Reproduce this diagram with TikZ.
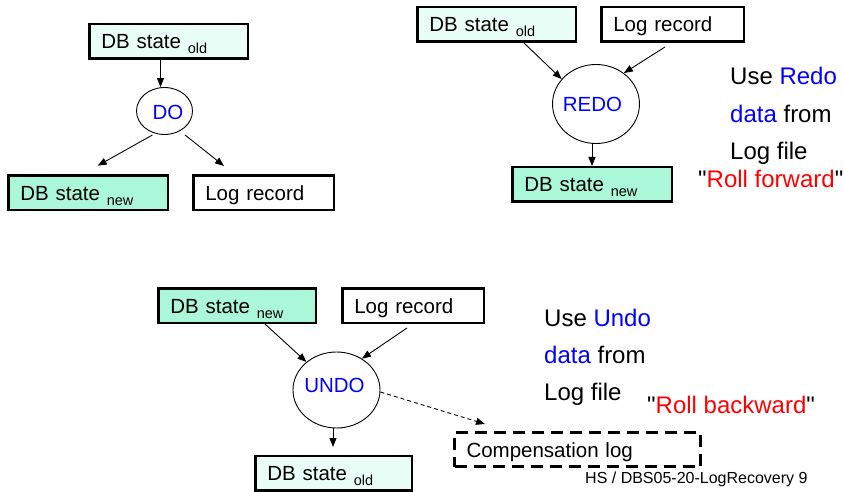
\documentclass[tikz,border=0pt]{standalone}
\usepackage{fontspec}
\setmainfont[Ligatures=TeXOff]{Liberation Sans}
\usetikzlibrary{arrows.meta,shapes.geometric,calc}

\definecolor{oldfill}{RGB}{234,254,248}
\definecolor{newfill}{RGB}{170,247,218}
\definecolor{kwblue}{RGB}{0,0,255}
\definecolor{kwred}{RGB}{255,0,0}

% lowered index text after "DB state"
\newcommand{\stateidx}[1]{\raisebox{-5pt}[0pt][0pt]{\fontsize{14.5}{14.5}\selectfont #1}}

\begin{document}
\begin{tikzpicture}[x=1pt,y=-1pt,
  font=\fontsize{20.5}{24}\selectfont,
  statebox/.style={draw, line width=2.5pt, minimum width=#1, text width=#1-24pt,
    align=left, minimum height=34.5pt, text height=15pt, text depth=0pt,
    inner xsep=0pt, inner ysep=0pt},
  oldbox/.style={statebox=#1, fill=oldfill},
  newbox/.style={statebox=#1, fill=newfill},
  logbox/.style={statebox=#1, fill=white},
  compbox/.style={statebox=#1, dash pattern=on 12pt off 7pt, line width=3pt},
  op/.style={draw, ellipse, line width=0.9pt, inner sep=0pt},
  oplabel/.style={text=kwblue},
  arr/.style={-{Triangle[length=9pt,width=7pt]}, line width=0.9pt},
  dasharr/.style={arr, dash pattern=on 4pt off 3pt},
  side/.style={anchor=base west, inner sep=0pt, font=\fontsize{24}{28}\selectfont},
  foot/.style={anchor=base west, inner sep=0pt, font=\fontsize{16}{18}\selectfont},
]
\useasboundingbox (0,0) rectangle (844,492);

% ---- DO ----
\node[oldbox=158.5pt] (oldA) at (168.5,41.5) {DB state \stateidx{old}};
\node[op, minimum width=56pt, minimum height=47pt,
      label={[oplabel, xshift=3.5pt, yshift=-1.5pt]center:DO}] (DO) at (164.5,111) {};
\node[newbox=159.5pt] (newA) at (88,193) {DB state \stateidx{new}};
\node[logbox=140.5pt] (logA) at (263.5,193) {Log record};
\coordinate (tipA1) at (97.7,165.7);
\coordinate (tipA2) at (224,166);

\draw[arr] ([xshift=-8pt]oldA.south) -- ([xshift=-4pt]DO.north);
\draw[arr] ([xshift=-12pt]DO.south) -- (tipA1);
\draw[arr] ([xshift=20.5pt]DO.south) -- (tipA2);

% ---- REDO ----
\node[oldbox=158.5pt] (oldB) at (496.5,24.5) {DB state \stateidx{old}};
\node[logbox=142.5pt] (logB) at (672.5,24.5) {Log record};
\node[op, minimum width=87pt, minimum height=79pt,
      label={[oplabel, xshift=-3.5pt]center:REDO}] (REDO) at (596,104) {};
\node[newbox=159.5pt] (newB) at (592,184.5) {DB state \stateidx{new}};

\draw[arr] ([xshift=27.5pt]oldB.south) -- (REDO.144);
\draw[arr] ([xshift=-7.5pt,yshift=-4pt]logB.south) -- (REDO.48);
\draw[arr] (REDO.south -| newB.north) -- (newB.north);

\node[side] (redo1) at (730,85) {Use \textcolor{kwblue}{Redo}};
\node[side] (redo2) at (730,123) {\textcolor{kwblue}{data} from};
\node[side] (redo3) at (730,160) {Log file};
\node[side] (redo4) at (698,188) {"\textcolor{kwred}{Roll forward}"};

% ---- UNDO ----
\node[newbox=157.5pt] (newC) at (237,305.5) {DB state \stateidx{new}};
\node[logbox=141.5pt] (logC) at (413,305.5) {Log record};
\node[op, minimum width=87pt, minimum height=76pt,
      label={[oplabel, xshift=-2pt, yshift=5pt]center:UNDO}] (UNDO) at (336.5,390) {};
\node[oldbox=156.5pt] (oldC) at (333.5,473) {DB state \stateidx{old}};
\node[compbox=246pt] (comp) at (577.5,449.5) {Compensation log};
\coordinate (tipC1) at (333,447);
\coordinate (tipC2) at (485,424);

\draw[arr] ([xshift=28pt]newC.south) -- (UNDO.137);
\draw[arr] ([xshift=-6pt,yshift=-4pt]logC.south) -- (UNDO.51);
\draw[arr] (UNDO.south -| tipC1) -- (tipC1);
\draw[dasharr] ([yshift=-2pt]UNDO.east) -- (tipC2);

\node[side] (undo1) at (544,326) {Use \textcolor{kwblue}{Undo}};
\node[side] (undo2) at (544,363) {\textcolor{kwblue}{data} from};
\node[side] (undo3) at (544,400) {Log file};
\node[side] (undo4) at (647,413) {"\textcolor{kwred}{Roll backward}"};

\node[foot] (footer) at (585,483) {HS / DBS05-20-LogRecovery 9};
\end{tikzpicture}
\end{document}
